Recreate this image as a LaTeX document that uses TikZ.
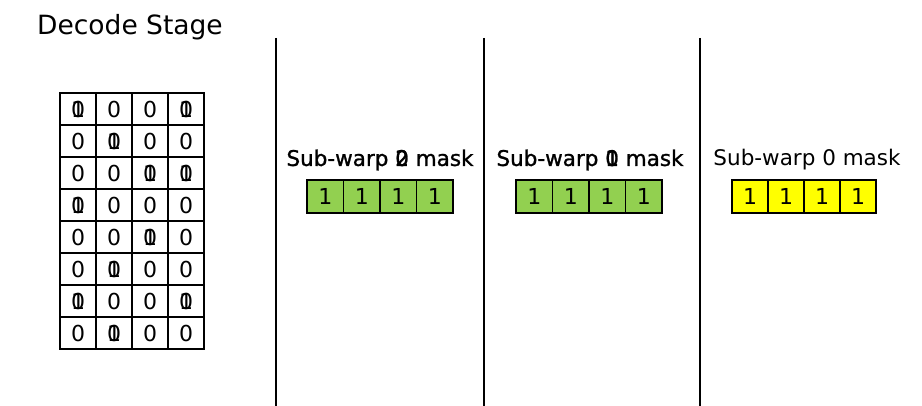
\documentclass[tikz,border=0pt]{standalone}
\usepackage{fontspec}
\setmainfont{DejaVu Sans}
\newfontfamily\dblfont{DejaVu Sans}[FakeBold=1.2]
\definecolor{maskgreen}{HTML}{92D050}
\definecolor{maskyellow}{HTML}{FFFF00}
\definecolor{darkline}{HTML}{000000}
\newcommand{\ovl}{\rlap{0}1}
\tikzset{
  cell/.style={rectangle, draw=darkline, line width=1.6pt, minimum width=36pt, minimum height=32pt, inner sep=0pt, font=\fontsize{22}{26}\selectfont},
  maskcell/.style={cell, minimum width=36.5pt, minimum height=33pt, font=\fontsize{22}{26}\selectfont},
  greenmask/.style={maskcell, fill=maskgreen},
  yellowmask/.style={maskcell, fill=maskyellow},
  masklabel/.style={font=\fontsize{21.5}{25}\selectfont, inner sep=0pt},
  divider/.style={darkline, line width=1.5pt}
}

\begin{document}
\begin{tikzpicture}[x=1pt, y=-1pt]
\useasboundingbox (0,0) rectangle (922,406);

\node[font=\fontsize{26.5}{31}\selectfont, inner sep=0pt] (title) at (130,27) {Decode Stage};

% decode grid
\foreach \row [count=\r] in {{\ovl,0,0,\ovl},{0,\ovl,0,0},{0,0,\ovl,\ovl},{\ovl,0,0,0},{0,0,\ovl,0},{0,\ovl,0,0},{\ovl,0,0,\ovl},{0,\ovl,0,0}} {
  \foreach \v [count=\c] in \row {
    \node[cell] (g-\r-\c) at (42+36*\c, 77+32*\r) {\v};
  }
}

% sub-warp masks
\node[masklabel] (lab2) at (380,160) {\dblfont Sub-warp \rlap{0}2 mask};
\node[masklabel] (lab1) at (590,160) {\dblfont Sub-warp \rlap{0}1 mask};
\node[masklabel] (lab0) at (807,160) {Sub-warp 0 mask};

\foreach \c in {1,...,4} {
  \node[greenmask] (m2-\c) at (307+36.5*\c-18.25, 196.5) {1};
  \node[greenmask] (m1-\c) at (516+36.5*\c-18.25, 196.5) {1};
  \node[yellowmask, minimum width=36pt] (m0-\c) at (732+36*\c-18, 196.5) {1};
}

\draw[divider] (276,38) -- (276,406);
\draw[divider] (484,38) -- (484,406);
\draw[divider] (700,38) -- (700,406);

\end{tikzpicture}
\end{document}
